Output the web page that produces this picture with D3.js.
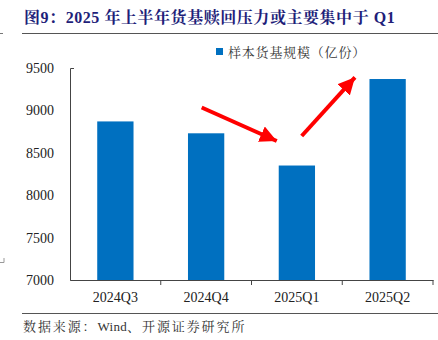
<!DOCTYPE html>
<html><head><meta charset="utf-8">
<script src="https://cdn.jsdelivr.net/npm/d3@7"></script>
<style>
html,body{margin:0;padding:0;background:#fff;}
svg{display:block;}
</style></head>
<body>
<svg id="c" width="438" height="340"></svg>
<script>
const categories = ["2024Q3","2024Q4","2025Q1","2025Q2"];
const values = [8870, 8730, 8350, 9370];
const yTicks = [7000,7500,8000,8500,9000,9500];
const seriesName = "样本货基规模（亿份）";
const titleText = "图9：2025 年上半年货基赎回压力或主要集中于 Q1";
const sourceText = "数据来源：Wind、开源证券研究所";
// arrows: [category position (index units), value]
const arrows = [
  {from:[0.951, 9034], to:[1.778, 8639]},
  {from:[2.053, 8698], to:[2.640, 9390]}
];

(function(){
const svg = d3.select("#c");
const serif = "'Liberation Serif','Times New Roman','Noto Serif CJK SC','Noto Sans CJK SC',serif";
const pL = 70, pR = 433, pT = 68, pB = 280;

const x = d3.scaleBand().domain(categories).range([pL, pR]).paddingInner(0.6).paddingOuter(0.3);
const y = d3.scaleLinear().domain([7000, 9500]).range([pB, pT]);
const step = x.step();
const xPos = i => pL + (i + 0.5) * step;

// title
svg.append("text").attr("x", 24).attr("y", 23)
  .attr("font-family", serif).attr("font-weight", "bold").attr("font-size", 16)
  .attr("letter-spacing", 0.55)
  .attr("fill", "#1f1f7a").text(titleText);
svg.append("line").attr("x1", 22).attr("x2", 438).attr("y1", 33.5).attr("y2", 33.5)
  .attr("stroke", "#555").attr("stroke-width", 1.2);
svg.append("line").attr("x1", 0).attr("x2", 3).attr("y1", 33.5).attr("y2", 33.5)
  .attr("stroke", "#777").attr("stroke-width", 1);

// bars
svg.append("g").selectAll("rect").data(values).join("rect")
  .attr("x", (d,i) => x(categories[i]))
  .attr("width", x.bandwidth())
  .attr("y", d => y(d))
  .attr("height", d => y(7000) - y(d))
  .attr("fill", "#0070C0");

// y axis
const ya = svg.append("g").attr("transform", `translate(${pL},0)`)
  .call(d3.axisLeft(y).tickValues(yTicks).tickFormat(d3.format("d")).tickSizeInner(0).tickSizeOuter(-4).tickPadding(16));
ya.select(".domain").attr("stroke", "#444");
ya.selectAll("text").attr("font-family", serif).attr("font-size", 14).attr("fill", "#222");

// x axis
const xa = svg.append("g").attr("transform", `translate(0,${pB})`)
  .call(d3.axisBottom(x).tickSize(0).tickPadding(12));
xa.select(".domain").attr("stroke", "#444");
xa.selectAll("text").attr("font-family", serif).attr("font-size", 14).attr("fill", "#222");
// boundary ticks
svg.append("g").selectAll("line").data(d3.range(1, categories.length + 1)).join("line")
  .attr("x1", i => pL + i * step).attr("x2", i => pL + i * step)
  .attr("y1", pB).attr("y2", pB + 5)
  .attr("stroke", "#444");

// legend
svg.append("rect").attr("x", 216).attr("y", 48).attr("width", 7).attr("height", 7).attr("fill", "#0070C0");
svg.append("text").attr("x", 228).attr("y", 56.5)
  .attr("font-family", serif).attr("font-size", 13).attr("letter-spacing", 0.8)
  .attr("fill", "#333").text(seriesName);

// arrows
const defs = svg.append("defs");
defs.append("marker").attr("id", "ah").attr("viewBox", "0 0 10 10")
  .attr("refX", 10).attr("refY", 5).attr("markerWidth", 4.2).attr("markerHeight", 4.2)
  .attr("markerUnits", "strokeWidth").attr("orient", "auto")
  .append("path").attr("d", "M0,0 L10,5 L0,10 z").attr("fill", "#f00");
svg.append("g").selectAll("line").data(arrows).join("line")
  .attr("x1", d => xPos(d.from[0])).attr("y1", d => y(d.from[1]))
  .attr("x2", d => xPos(d.to[0])).attr("y2", d => y(d.to[1]))
  .attr("stroke", "#f00").attr("stroke-width", 4)
  .attr("marker-end", "url(#ah)");

// footer
svg.append("line").attr("x1", 22).attr("x2", 438).attr("y1", 313.5).attr("y2", 313.5)
  .attr("stroke", "#555").attr("stroke-width", 1.2);
const parts = sourceText.match(/[A-Za-z]+|[^A-Za-z]+/g);
svg.append("text").attr("x", 23).attr("y", 331)
  .attr("font-family", serif).attr("font-size", 13)
  .attr("fill", "#333")
  .selectAll("tspan").data(parts).join("tspan")
  .attr("letter-spacing", d => /[A-Za-z]/.test(d) ? 0.3 : 1.9)
  .text(d => d);
svg.append("path").attr("d", "M0,262.5 H4 V258").attr("fill", "none").attr("stroke", "#999");
})();
</script>
</body></html>
